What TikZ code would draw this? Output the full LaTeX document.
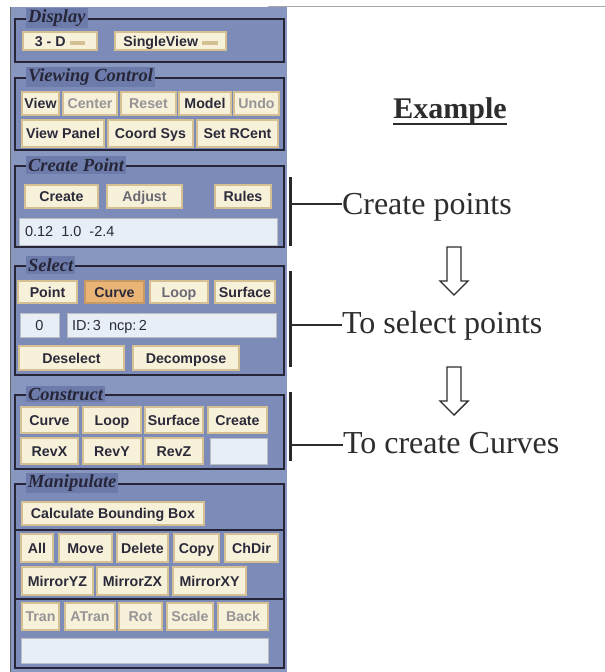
\documentclass[tikz,border=0pt]{standalone}
\usepackage{fontspec}
\setmainfont{Liberation Serif}
\newfontfamily\uisans{Liberation Sans}
\definecolor{panelbg}{RGB}{136,151,192}
\definecolor{framebg}{RGB}{124,139,183}
\definecolor{titlebg}{RGB}{108,123,170}
\definecolor{btnfill}{RGB}{248,241,218}
\definecolor{btnedge}{RGB}{212,192,146}
\definecolor{hotfill}{RGB}{234,180,118}
\definecolor{fieldfill}{RGB}{231,238,246}
\definecolor{uitext}{RGB}{42,42,58}
\definecolor{uigray}{RGB}{150,148,150}
\definecolor{framecol}{RGB}{38,38,56}
\definecolor{ink}{RGB}{45,45,45}
% box given by its corners (x1,y1)-(x2,y2) in pixel units
\newcommand\uibox[7]{\node[#1, minimum width={#5-#3}, minimum height={#6-#4}] (#2) at ({(#3+#5)/2},{(#4+#6)/2}) {#7};}
\begin{document}
\begin{tikzpicture}[x=1pt,y=-1pt,
  every node/.style={inner sep=0pt, outer sep=0pt},
  btn/.style={rectangle, draw=btnedge, fill=btnfill, line width=1.3pt, text=uitext,
    text height=11.6pt, text depth=1.4pt,
    font=\uisans\bfseries\fontsize{14.2}{16}\selectfont},
  dim/.style={btn, text=uigray},
  hot/.style={btn, fill=hotfill, draw=hotfill!85!black},
  field/.style={rectangle, fill=fieldfill, draw=fieldfill!80!black, line width=0.6pt, text=uitext,
    text height=11.6pt, text depth=1.4pt,
    font=\uisans\fontsize{14.5}{16}\selectfont},
  fieldtext/.style={anchor=west, text=uitext, text height=11.6pt, text depth=1.4pt,
    font=\uisans\fontsize{14.5}{16}\selectfont},
  frame/.style={rectangle, draw=framecol, fill=framebg, line width=1.6pt},
  sectitle/.style={anchor=west, fill=titlebg, inner xsep=2pt, inner ysep=2pt, text=framecol,
    font=\bfseries\itshape\fontsize{18.5}{20}\selectfont},
  label/.style={anchor=base west, text=ink, font=\fontsize{32}{36}\selectfont},
  brace/.style={draw=ink!90!black, line width=3pt},
  tick/.style={draw=ink, line width=1.6pt},
  hollow/.style={draw=ink, fill=white, line width=1.4pt, line join=miter}]
\useasboundingbox (0,0) rectangle (605,672);
\fill[white] (0,0) rectangle (605,672);

% cut rule along the top edge
\draw[gray!70, line width=0.8pt] (268,6) -- (605,6);

% control panel background
\fill[panelbg] (10,7) rectangle (287,672);
\draw[gray!80!black, line width=1pt] (10,7) -- (10,672);

% ---- Display
\uibox{frame}{fDisp}{15}{19}{284}{62}{}
\node[sectitle] (tDisp) at (26,18) {Display};
\uibox{btn}{b3d}{23}{32}{97}{50}{3 - D \textcolor{btnedge}{\rule[0.2ex]{1.1em}{0.45ex}}}
\uibox{btn}{bSingle}{115}{32}{226}{50}{SingleView \textcolor{btnedge}{\rule[0.2ex]{1.1em}{0.45ex}}}

% ---- Viewing Control
\uibox{frame}{fView}{15}{78}{284}{150}{}
\node[sectitle] (tView) at (26,77) {Viewing Control};
\uibox{btn}{bView}{22}{92}{59}{115}{View}
\uibox{dim}{bCenter}{63}{92}{117}{115}{Center}
\uibox{dim}{bReset}{121}{92}{176}{115}{Reset}
\uibox{btn}{bModel}{179}{92}{231}{115}{Model}
\uibox{dim}{bUndo}{234}{92}{279}{115}{Undo}
\uibox{btn}{bPanel}{22}{120}{104}{147}{View Panel}
\uibox{btn}{bCoord}{108}{120}{193}{147}{Coord Sys}
\uibox{btn}{bRCent}{197}{120}{278}{147}{Set RCent}

% ---- Create Point
\uibox{frame}{fCreate}{15}{166}{284}{247}{}
\node[sectitle] (tCreate) at (26,165) {Create Point};
\uibox{btn}{bCreate}{25}{185}{98}{208}{Create}
\uibox{btn}{bAdjust}{107}{185}{182}{208}{\textcolor{uitext!70!white}{Adjust}}
\uibox{btn}{bRules}{215}{185}{271}{208}{Rules}
\uibox{field}{xCoord}{19}{218}{277}{245}{}
\node[fieldtext] (vCoord) at (25,231.5) {0.12\ \ 1.0\ \ -2.4};

% ---- Select
\uibox{frame}{fSel}{15}{266}{284}{375}{}
\node[sectitle] (tSel) at (26,265) {Select};
\uibox{btn}{bPoint}{18}{281}{77}{303}{Point}
\uibox{hot}{bCurve}{85}{281}{144}{303}{Curve}
\uibox{btn}{bLoop}{150}{281}{208}{303}{\textcolor{uitext!70!white}{Loop}}
\uibox{btn}{bSurf}{215}{281}{275}{303}{Surface}
\uibox{field}{xCount}{20}{313}{59}{337}{0}
\uibox{field}{xInfo}{67}{313}{276}{337}{}
\node[fieldtext] (vInfo) at (72,325) {ID:\,3\ \ ncp:\,2};
\uibox{btn}{bDesel}{19}{346}{124}{370}{Deselect}
\uibox{btn}{bDecomp}{133}{346}{239}{370}{Decompose}

% ---- Construct
\uibox{frame}{fCons}{15}{395}{284}{469}{}
\node[sectitle] (tCons) at (26,394) {Construct};
\uibox{btn}{cCurve}{21}{407}{78}{433}{Curve}
\uibox{btn}{cLoop}{83}{407}{141}{433}{Loop}
\uibox{btn}{cSurf}{145}{407}{203}{433}{Surface}
\uibox{btn}{cCreate}{208}{407}{267}{433}{Create}
\uibox{btn}{cRevX}{21}{438}{78}{464}{RevX}
\uibox{btn}{cRevY}{83}{438}{141}{464}{RevY}
\uibox{btn}{cRevZ}{145}{438}{203}{464}{RevZ}
\uibox{field}{xCons}{210}{438}{267}{464}{}

% ---- Manipulate
\uibox{frame}{fMan}{15}{484}{284}{668}{}
\node[sectitle] (tMan) at (26,483) {Manipulate};
\uibox{btn}{mBox}{22}{502}{204}{525}{Calculate Bounding Box}
\draw[framecol, line width=1.6pt] (fMan.west |- 0,530) -- (fMan.east |- 0,530);
\uibox{btn}{mAll}{21}{534}{53}{562}{All}
\uibox{btn}{mMove}{59}{534}{112}{562}{Move}
\uibox{btn}{mDel}{117}{534}{168}{562}{Delete}
\uibox{btn}{mCopy}{174}{534}{219}{562}{Copy}
\uibox{btn}{mChDir}{225}{534}{278}{562}{ChDir}
\uibox{btn}{mYZ}{22}{567}{93}{595}{MirrorYZ}
\uibox{btn}{mZX}{97}{567}{168}{595}{MirrorZX}
\uibox{btn}{mXY}{173}{567}{246}{595}{MirrorXY}
\draw[framecol, line width=1.6pt] (fMan.west |- 0,599) -- (fMan.east |- 0,599);
\uibox{dim}{mTran}{22}{603}{59}{630}{Tran}
\uibox{dim}{mATran}{65}{603}{115}{630}{ATran}
\uibox{dim}{mRot}{119}{603}{162}{630}{Rot}
\uibox{dim}{mScale}{167}{603}{213}{630}{Scale}
\uibox{dim}{mBack}{218}{603}{268}{630}{Back}
\uibox{field}{xMan}{21}{638}{268}{663}{}

% ---- Example column
\node[anchor=base, text=ink, font=\bfseries\fontsize{30}{34}\selectfont] (ex) at (450,118) {Example};
\draw[ink, line width=2pt] (ex.west |- 0,123.5) -- (ex.east |- 0,123.5);

\node[label] (lCreate) at (342,214) {Create points};
\node[label] (lSelect) at (342,333) {To select points};
\node[label] (lCons) at (343,453) {To create Curves};

% brackets joining the panel sections to their labels
\coordinate (kCreate) at (290,204);
\coordinate (kSelect) at (290,325);
\coordinate (kCons) at (290,445);
\draw[brace] (290,177) -- (290,246);
\draw[brace] (290,271) -- (290,367);
\draw[brace] (290,392) -- (290,461);
\draw[tick] (kCreate) -- (kCreate -| lCreate.west);
\draw[tick] (kSelect) -- (kSelect -| lSelect.west);
\draw[tick] (kCons) -- (kCons -| lCons.west);

% hollow down arrows between the steps
\draw[hollow] (447,247) -- (461,247) -- (461,281) -- (468,281) -- (454,295)
  -- (440,281) -- (447,281) -- cycle;
\draw[hollow] (447,367) -- (461,367) -- (461,401) -- (468,401) -- (454,415)
  -- (440,401) -- (447,401) -- cycle;
\end{tikzpicture}
\end{document}
